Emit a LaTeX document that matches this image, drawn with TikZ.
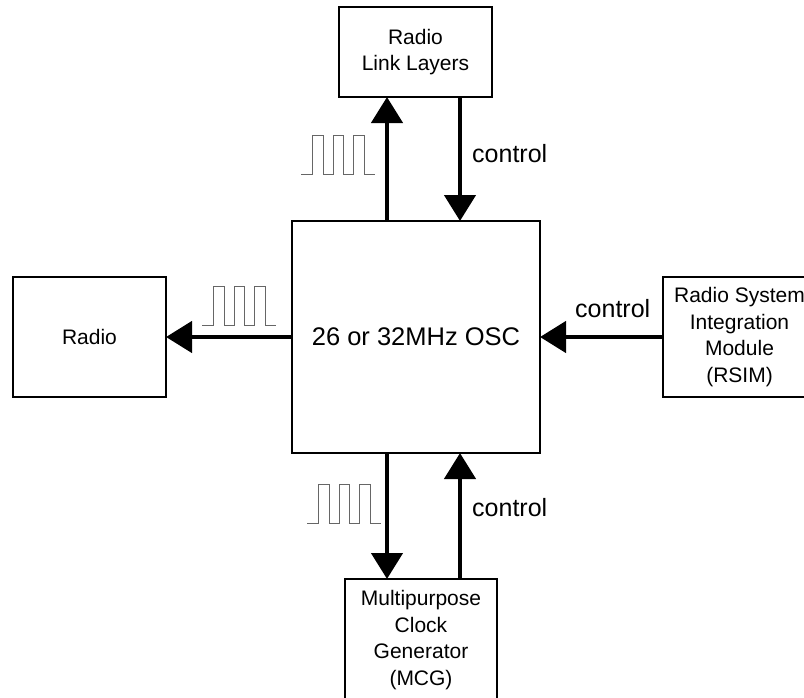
\documentclass[tikz,border=0pt]{standalone}
\usepackage{fontspec}
\setmainfont{Liberation Sans}
\usetikzlibrary{arrows.meta}
\begin{document}
\begin{tikzpicture}[x=1pt,y=-1pt,
  box/.style={draw, line width=1.2pt, inner sep=0pt, outer sep=0pt, align=center,
              font=\fontsize{21}{26.7}\selectfont},
  arr/.style={line width=4.5pt, -{Triangle[width=31pt,length=26pt]}},
  wave/.style={draw=black!60, line width=1pt},
  lab/.style={font=\fontsize{25}{30}\selectfont, inner sep=0pt, anchor=west},
  sqwave/.pic={\draw[wave] (0,0) -- (11,0) -- (11,-39) -- (22,-39) -- (22,0) -- (32,0) -- (32,-39) -- (42,-39) -- (42,0) -- (52,0) -- (52,-39) -- (63,-39) -- (63,0) -- (74,0);}]
\useasboundingbox (0,0) rectangle (804,697);
\clip (0,0) rectangle (804,697);
\fill[white] (0,0) rectangle (804,697);
% nodes
\node[box, minimum width=153pt, minimum height=90pt] (rll) at (415.5,52) {Radio\\Link Layers};
\node[box, line width=2pt, minimum width=248pt, minimum height=232pt,
      font=\fontsize{25.5}{30}\selectfont] (osc) at (416,337) {26 or 32MHz OSC};
\node[box, minimum width=153pt, minimum height=120pt] (radio) at (89.5,337) {Radio};
\node[box, minimum width=153pt, minimum height=120pt] (rsim) at (739.5,337)
      {Radio System\\Integration\\Module\\(RSIM)};
\node[box, minimum width=152pt, minimum height=122pt] (mcg) at (421,640)
      {Multipurpose\\Clock\\Generator\\(MCG)};
% connector columns
\coordinate (cx1) at (387,0);
\coordinate (cx2) at (460,0);
% connectors
\draw[arr] (osc.north -| cx1) -- (rll.south -| cx1);
\draw[arr] (rll.south -| cx2) -- (osc.north -| cx2);
\draw[arr] (osc.west) -- (radio.east);
\draw[arr] (rsim.west) -- (osc.east);
\draw[arr] (osc.south -| cx1) -- (mcg.north -| cx1);
\draw[arr] (mcg.north -| cx2) -- (osc.south -| cx2);
% labels
\node[lab] (c1) at (472,154) {control};
\node[lab] (c2) at (575,308.5) {control};
\node[lab] (c3) at (472,508) {control};
% square waves
\pic at (301,174) {sqwave};
\pic at (202,325) {sqwave};
\pic at (307,523) {sqwave};
\end{tikzpicture}
\end{document}
